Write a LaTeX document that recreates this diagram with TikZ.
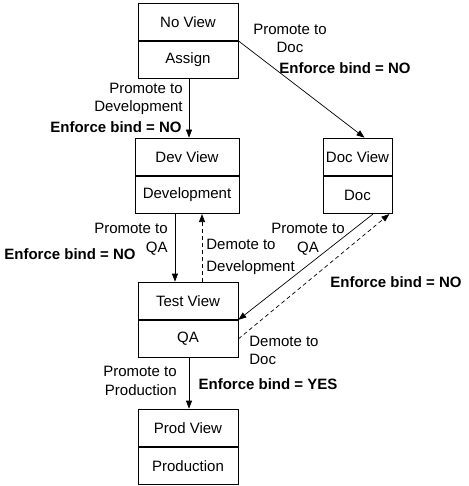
\documentclass[tikz,border=0pt]{standalone}
\usepackage{fontspec}
\setmainfont{Liberation Sans}
\usetikzlibrary{arrows.meta}
\tikzset{
	cell/.style={draw, minimum width=100pt, minimum height=37.5pt, inner sep=0pt},
	lbl/.style={inner sep=0pt},
	bind/.style={inner sep=0pt, font=\fontsize{15}{18.5}\selectfont\bfseries},
	tip/.style={-{Triangle[length=8pt,width=6pt]}},
	demote/.style={tip, dash pattern=on 4pt off 3pt}
}

\begin{document}
\begin{tikzpicture}[x=1pt, y=-1pt, line width=0.7pt, font=\fontsize{15}{18.5}\selectfont]
			%%%%% START %%%%%
			\useasboundingbox (0,0) rectangle (468,486);
			
			\node[cell] (noview) at (188, 21.75) {No View};
			\node[cell, anchor=north] (assign) at (noview.south) {Assign};
			
			\node[cell, minimum width=104pt] (devview) at (187, 156.75) {Dev View};
			\node[cell, minimum width=104pt, anchor=north] (development) at (devview.south) {Development};
			
			\node[cell, minimum width=69pt] (docview) at (357.5, 156.75) {Doc View};
			\node[cell, minimum width=69pt, anchor=north] (doc) at (docview.south) {Doc};
			
			\node[cell] (testview) at (188, 300.75) {Test View};
			\node[cell, anchor=north] (qa) at (testview.south) {QA};
			
			\node[cell] (prodview) at (188, 427.75) {Prod View};
			\node[cell, anchor=north] (production) at (prodview.south) {Production};
			
			\draw[tip] ([xshift=1pt]assign.south) -- ([xshift=2pt]devview.north);
			\draw[tip] (assign.north east) -- ([xshift=7pt]docview.north);
			\draw[tip] ([xshift=-12pt]development.south) -- ([xshift=-13pt]testview.north);
			\draw[demote] ([xshift=14pt]testview.north) -- ([xshift=15pt]development.south);
			\draw[tip] ([xshift=15.5pt]doc.south) -- (testview.south east);
			\draw[demote] (qa.east) -- ([xshift=-3pt]doc.south east);
			\draw[tip] ([xshift=1pt]qa.south) -- ([xshift=1pt]prodview.north);
			
			\node[lbl, align=center] (pdoc) at (290, 38.5) {Promote to\\Doc};
			\node[bind] (bdoc) at (345, 68) {Enforce bind = NO};
			
			\node[lbl, align=right, anchor=east] (pdev) at (183, 99) {Promote to\\Development};
			\node[bind, anchor=east] (bdev) at (182, 127) {Enforce bind = NO};
			
			\node[lbl, align=right, anchor=east] (pqa) at (168, 239.5) {Promote to\\QA};
			\node[bind] (bqa) at (70, 254) {Enforce bind = NO};
			\node[lbl, align=left, anchor=west] (ddev) at (206, 257) {Demote to\\[3pt]Development};
			
			\node[lbl, align=center] (pqadoc) at (308, 239.5) {Promote to\\QA};
			\node[bind] (bqadoc) at (396, 282) {Enforce bind = NO};
			\node[lbl, align=left, anchor=west] (ddoc) at (249, 350.5) {Demote to\\Doc};
			
			\node[lbl, align=right, anchor=east] (pprod) at (177, 381) {Promote to\\Production};
			\node[bind] (bprod) at (268, 384) {Enforce bind = YES};
			
			%%%%% END %%%%%
\end{tikzpicture}
\end{document}
